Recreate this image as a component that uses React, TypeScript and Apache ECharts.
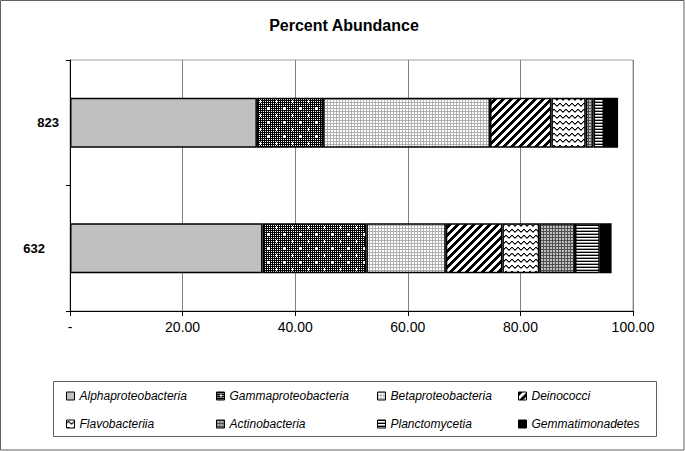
import React, { useEffect, useRef } from "react";
import * as echarts from "echarts";

const categories = ["632", "823"];
const seriesNames = [
  "Alphaproteobacteria",
  "Gammaproteobacteria",
  "Betaproteobacteria",
  "Deinococci",
  "Flavobacteriia",
  "Actinobacteria",
  "Planctomycetia",
  "Gemmatimonadetes",
];
// values per category [632, 823]
const alpha = [34.2, 33.2];
const gamma = [18.45, 11.75];
const beta = [14.1, 29.65];
const deino = [10.05, 10.9];
const flavo = [6.55, 6.1];
const actino = [6.35, 1.4];
const plancto = [4.4, 1.85];
const gemma = [2.1, 2.5];
const xTicks = [0, 20, 40, 60, 80, 100];

const FONT = "'Liberation Sans', Arial, sans-serif";

type PixFn = (x: number, y: number) => string;

function makePattern(w: number, h: number, fn: PixFn) {
  const c = document.createElement("canvas");
  c.width = w;
  c.height = h;
  const ctx = c.getContext("2d")!;
  for (let y = 0; y < h; y++) {
    for (let x = 0; x < w; x++) {
      ctx.fillStyle = fn(x, y);
      ctx.fillRect(x, y, 1, 1);
    }
  }
  return {
    image: c.toDataURL(),
    repeat: "repeat",
    imageWidth: w,
    imageHeight: h,
  } as any;
}

function buildFills() {
  const gammaFill = makePattern(16, 14, (x, y) => {
    const plus = (cx: number, cy: number) =>
      (x === cx && Math.abs(y - cy) <= 1) || (y === cy && Math.abs(x - cx) <= 1);
    if (plus(4, 3) || plus(12, 10)) return "#ffffff";
    return x % 2 === 0 || y % 2 === 0 ? "#000000" : "#ffffff";
  });
  const betaFill = makePattern(3, 3, (x, y) =>
    x === 0 || y === 0 ? "#b0b0b0" : "#ffffff"
  );
  const deinoFill = makePattern(8, 8, (x, y) =>
    (x + y) % 8 < 4 ? "#000000" : "#ffffff"
  );
  const wave = [2, 1, 1, 2, 3, 3];
  const flavoFill = makePattern(6, 6, (x, y) =>
    y === wave[x] ? "#000000" : y === wave[x] + 1 ? "#909090" : "#ffffff"
  );
  const actinoFill = makePattern(3, 3, (x, y) =>
    x === 0 || y === 0 ? "#505050" : "#c0c0c0"
  );
  const planctoFill = makePattern(2, 3, (x, y) =>
    y === 0 ? "#000000" : y === 1 ? "#ffffff" : "#a0a0a0"
  );
  return [
    "#c0c0c0",
    gammaFill,
    betaFill,
    deinoFill,
    flavoFill,
    actinoFill,
    planctoFill,
    "#000000",
  ];
}

export default function App() {
  const ref = useRef<HTMLDivElement>(null);
  useEffect(() => {
    if (!ref.current) return;
    const chart = echarts.init(ref.current, undefined, { renderer: "svg" });
    const fills = buildFills();
    const values = [alpha, gamma, beta, deino, flavo, actino, plancto, gemma];
    const series = seriesNames.map((name, i) => ({
      name,
      type: "bar",
      stack: "total",
      barWidth: 50,
      data: values[i],
      itemStyle: { color: fills[i], borderColor: "#000000", borderWidth: 1.5 },
      emphasis: { disabled: true },
    }));
    const legendCols = [
      { left: 66, data: [seriesNames[0], seriesNames[4]] },
      { left: 216, data: [seriesNames[1], seriesNames[5]] },
      { left: 377, data: [seriesNames[2], seriesNames[6]] },
      { left: 518, data: [seriesNames[3], seriesNames[7]] },
    ];
    chart.setOption({
      animation: false,
      backgroundColor: "#ffffff",
      title: {
        text: "Percent Abundance",
        left: 339,
        textAlign: "center",
        top: 12,
        textStyle: { fontFamily: FONT, fontSize: 16, fontWeight: "bold", color: "#000" },
      },
      grid: {
        left: 70,
        right: 52,
        top: 60,
        bottom: 140,
        show: true,
        borderColor: "#a0a0a0",
        borderWidth: 1,
      },
      xAxis: {
        type: "value",
        min: 0,
        max: 100,
        interval: 20,
        axisLine: { show: true, lineStyle: { color: "#000", width: 1 } },
        axisTick: { show: true, length: 5, lineStyle: { color: "#000" } },
        splitLine: { show: true, lineStyle: { color: "#808080", width: 1 } },
        axisLabel: {
          margin: 9,
          fontFamily: FONT,
          fontSize: 14,
          color: "#000",
          formatter: (v: number) =>
            xTicks.includes(v) ? (v === 0 ? "-" : v.toFixed(2)) : "",
        },
      },
      yAxis: {
        type: "category",
        data: categories,
        axisLine: { show: true, lineStyle: { color: "#000", width: 1 } },
        axisTick: { show: true, length: 4, lineStyle: { color: "#000" } },
        axisLabel: {
          margin: 11,
          formatter: (v: string) => (v === "823" ? `{a|${v}}` : `{b|${v}}`),
          rich: {
            a: { fontFamily: FONT, fontSize: 13, fontWeight: "bold", color: "#000" },
            b: {
              fontFamily: FONT,
              fontSize: 13,
              fontWeight: "bold",
              color: "#000",
              padding: [0, 14, 0, 0],
            },
          },
        },
      },
      legend: legendCols.map((c) => ({
        orient: "vertical",
        left: c.left,
        top: 389,
        padding: 0,
        itemWidth: 8,
        itemHeight: 8,
        itemGap: 14,
        icon: "rect",
        selectedMode: false,
        data: c.data,
        itemStyle: { borderColor: "#000", borderWidth: 1 },
        textStyle: {
          fontFamily: FONT,
          fontSize: 12,
          fontStyle: "italic",
          color: "#000",
          lineHeight: 14,
        },
      })),
      graphic: [
        {
          type: "rect",
          shape: { x: 53.5, y: 381.5, width: 603, height: 55 },
          style: { fill: "none", stroke: "#606060", lineWidth: 1 },
          z: -1,
        },
        {
          type: "rect",
          shape: { x: 0.5, y: 0.5, width: 683.5, height: 449.5 },
          style: { fill: "none", stroke: "#606060", lineWidth: 1 },
          z: -1,
        },
      ],
      series,
    });
    return () => chart.dispose();
  }, []);
  return (
    <div
      ref={ref}
      style={{ position: "fixed", left: 0, top: 0, width: 685, height: 451 }}
    />
  );
}
